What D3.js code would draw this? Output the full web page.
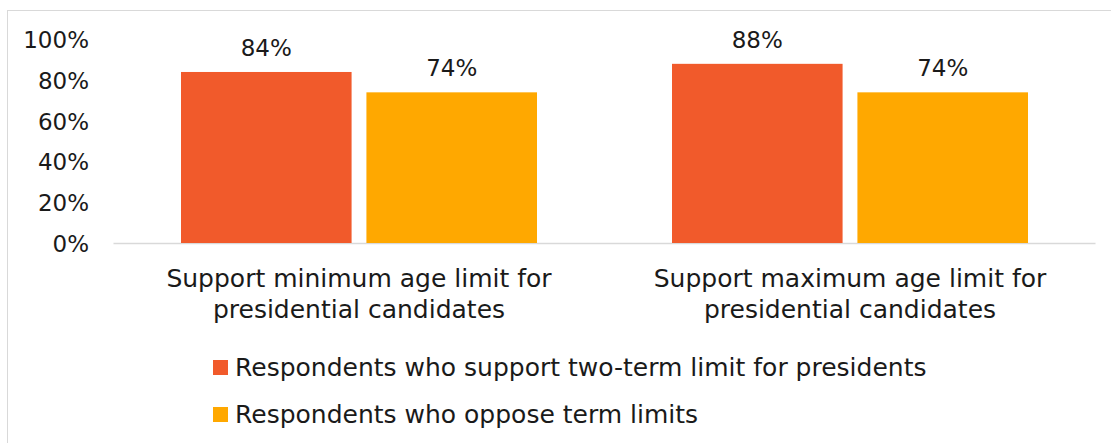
<!DOCTYPE html>
<html><head><meta charset="utf-8">
<script src="https://cdn.jsdelivr.net/npm/d3@7"></script>
<style>body{margin:0;background:#fff}svg{display:block}text{font-family:"DejaVu Sans",sans-serif;fill:#1a1a1a}</style>
</head><body><svg id="c" width="1111" height="443"></svg>
<script>
const categories = [["Support minimum age limit for","presidential candidates"],["Support maximum age limit for","presidential candidates"]];
const seriesNames = ["Respondents who support two-term limit for presidents","Respondents who oppose term limits"];
const supportTwoTerm = [0.84, 0.88];
const opposeLimits = [0.74, 0.74];
const tickValues = [0, 0.2, 0.4, 0.6, 0.8, 1.0];
const colors = ["#F15A2B", "#FFA800"];

const svg = d3.select("#c");
svg.append("rect").attr("x",7.5).attr("y",10.5).attr("width",1120).attr("height",450).attr("fill","none").attr("stroke","#d9d9d9");

const x0 = d3.scaleBand().domain([0,1]).range([113.5,1095.5]).paddingInner(0).paddingOuter(0);
const x1 = d3.scaleBand().domain([0,1]).range([67.5, 423.5]).paddingInner(0.08);
const y = d3.scaleLinear().domain([0,1]).range([243,39.4]);
const series = [supportTwoTerm, opposeLimits];
const FS = 25, NFS = 23;

const yAxis = d3.axisLeft(y).tickValues(tickValues).tickFormat(d3.format(".0%")).tickSize(0).tickPadding(0);
const ga = svg.append("g").attr("transform","translate(89,0)").call(yAxis);
ga.select(".domain").remove();
ga.selectAll("text").attr("font-size",NFS).attr("fill","#1a1a1a").attr("font-family","DejaVu Sans").attr("dy","0.36em");

svg.append("line").attr("x1",x0.range()[0]).attr("x2",x0.range()[1]).attr("y1",243.5).attr("y2",243.5).attr("stroke","#d9d9d9").attr("stroke-width",1.5);

categories.forEach((cat,i)=>{
  const g = svg.append("g").attr("transform",`translate(${x0(i)},0)`);
  series.forEach((s,j)=>{
    g.append("rect").attr("x",x1(j)).attr("width",x1.bandwidth()).attr("y",y(s[i])).attr("height",y(0)-y(s[i])).attr("fill",colors[j]);
    g.append("text").attr("x",x1(j)+x1.bandwidth()/2).attr("y",y(s[i])-16).attr("text-anchor","middle").attr("font-size",NFS).text(d3.format(".0%")(s[i]));
  });
  const t = g.append("text").attr("x",x0.bandwidth()/2).attr("text-anchor","middle").attr("font-size",FS);
  cat.forEach((line,k)=>t.append("tspan").attr("x",x0.bandwidth()/2).attr("y",287+k*31).text(line));
});

const lg = svg.append("g");
seriesNames.forEach((n,j)=>{
  const yy = 360 + j*47;
  lg.append("rect").attr("x",213).attr("y",yy).attr("width",15).attr("height",15).attr("fill",colors[j]);
  lg.append("text").attr("x",235).attr("y",yy+16).attr("font-size",FS).text(n);
});
</script></body></html>
